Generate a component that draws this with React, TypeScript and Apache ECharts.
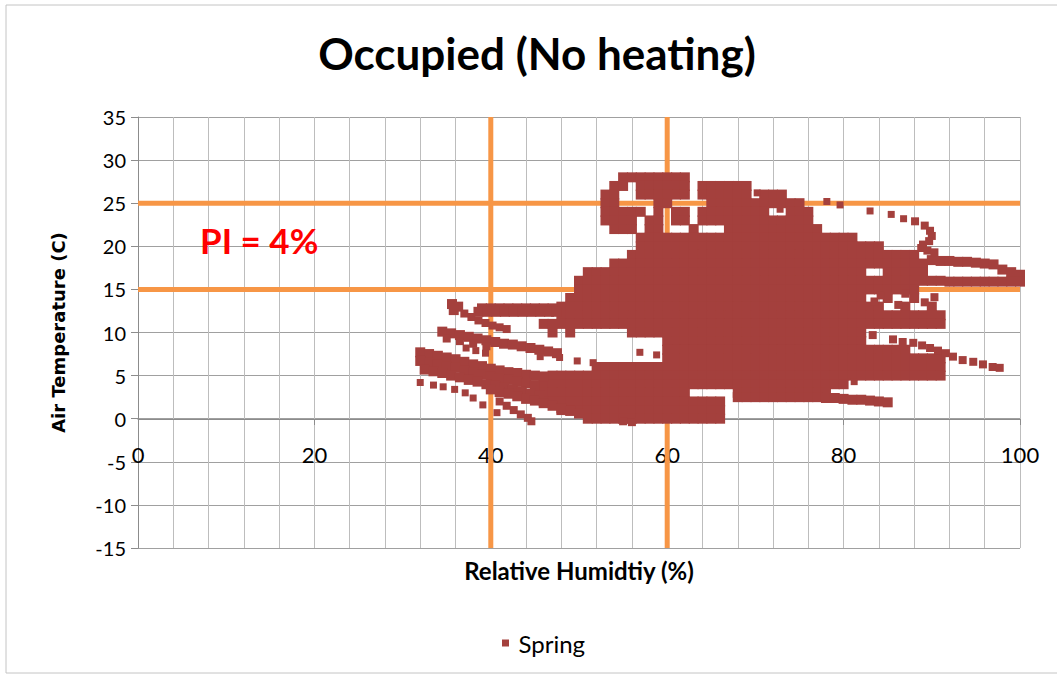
import React, { useEffect, useRef } from 'react';
import * as echarts from 'echarts';

// ---- axis settings / reference limits ----
const xMin = 0, xMax = 100, xStep = 20;
const yMin = -15, yMax = 35, yStep = 5;
const rhLimits = [40, 60];
const tempLimits = [15, 25];

// ---- Spring readings [RH %, air temperature C] ----
// dense core, upper cluster
const springCoreTop = [
  55,28, 56,28, 57,28, 58,28, 59,28, 60,28, 61,28, 62,28,
  54,27, 55,27, 57,27, 58,27, 59,27, 60,27, 61,27, 62,27, 64,27, 65,27, 66,27, 67,27, 68,27, 69,27,
  53,26, 54,26, 57,26, 58,26, 59,26, 60,26, 61,26, 62,26, 64,26, 65,26, 66,26, 67,26, 68,26, 69,26, 71,26, 72,26, 73,26,
  53,25, 54,25, 59,25, 60,25, 65,25, 66,25, 67,25, 68,25, 69,25, 70,25, 71,25, 72,25, 73,25, 74,25, 75,25,
  53,24, 54,24, 55,24, 56,24, 57,24, 59,24, 61,24, 62,24, 64,24, 65,24, 66,24, 67,24, 68,24, 69,24, 70,24, 71,24, 74,24, 75,24, 76,24,
  53,23, 54,23, 55,23, 56,23, 58,23, 59,23, 61,23, 62,23, 64,23, 65,23, 66,23, 67,23, 68,23, 69,23, 70,23, 71,23, 72,23, 73,23, 74,23, 75,23, 76,23,
  54,22, 55,22, 56,22, 58,22, 59,22, 63,22, 67,22, 68,22, 69,22, 70,22, 71,22, 72,22, 73,22, 74,22, 75,22, 76,22, 77,22,
];

// dense core, middle rows
const springCoreMid = [
  57,21, 58,21, 59,21, 60,21, 61,21, 62,21, 63,21, 64,21, 65,21, 66,21, 67,21, 68,21, 69,21, 70,21, 71,21, 72,21, 73,21, 74,21, 75,21, 76,21, 77,21, 78,21, 79,21, 80,21, 81,21,
  57,20, 58,20, 59,20, 60,20, 61,20, 62,20, 63,20, 64,20, 65,20, 66,20, 67,20, 68,20, 69,20, 70,20, 71,20, 72,20, 73,20, 74,20, 75,20, 76,20, 77,20, 78,20, 79,20, 80,20, 81,20, 82,20, 83,20, 84,20,
  56,19, 57,19, 58,19, 59,19, 60,19, 61,19, 62,19, 63,19, 64,19, 65,19, 66,19, 67,19, 68,19, 69,19, 70,19, 71,19, 72,19, 73,19, 74,19, 75,19, 76,19, 77,19, 78,19, 79,19, 80,19, 81,19, 82,19, 83,19, 84,19, 85,19, 86,19, 87,19, 88,19,
  54,18, 55,18, 56,18, 57,18, 58,18, 59,18, 60,18, 61,18, 62,18, 63,18, 64,18, 65,18, 66,18, 67,18, 68,18, 69,18, 70,18, 71,18, 72,18, 73,18, 74,18, 75,18, 76,18, 77,18, 78,18, 79,18, 80,18, 81,18, 82,18, 83,18, 84,18, 85,18, 86,18, 87,18, 88,18, 89,18,
  51,17, 52,17, 53,17, 54,17, 55,17, 56,17, 57,17, 58,17, 59,17, 60,17, 61,17, 62,17, 63,17, 64,17, 65,17, 66,17, 67,17, 68,17, 69,17, 70,17, 71,17, 72,17, 73,17, 74,17, 75,17, 76,17, 77,17, 78,17, 79,17, 80,17, 81,17, 82,17, 85,17, 86,17, 87,17, 88,17, 89,17,
  50,16, 51,16, 52,16, 53,16, 54,16, 55,16, 56,16, 57,16, 58,16, 59,16, 60,16, 61,16, 62,16, 63,16, 64,16, 65,16, 66,16, 67,16, 68,16, 69,16, 70,16, 71,16, 72,16, 73,16, 74,16, 75,16, 76,16, 77,16, 78,16, 79,16, 80,16, 81,16, 82,16, 83,16, 84,16, 85,16, 86,16, 87,16, 88,16, 89,16, 90,16, 91,16,
  50,15, 51,15, 52,15, 53,15, 54,15, 55,15, 56,15, 57,15, 58,15, 59,15, 60,15, 61,15, 62,15, 63,15, 64,15, 65,15, 66,15, 67,15, 68,15, 69,15, 70,15, 71,15, 72,15, 73,15, 74,15, 75,15, 76,15, 77,15, 78,15, 79,15, 80,15, 81,15, 82,15, 83,15, 84,15, 85,15, 86,15, 87,15, 88,15,
  49,14, 50,14, 51,14, 52,14, 53,14, 54,14, 55,14, 56,14, 57,14, 58,14, 59,14, 60,14, 61,14, 62,14, 63,14, 64,14, 65,14, 66,14, 67,14, 68,14, 69,14, 70,14, 71,14, 72,14, 73,14, 74,14, 75,14, 76,14, 77,14, 78,14, 79,14, 80,14, 81,14, 82,14, 85,14, 88,14,
];

// dense core, lower rows
const springCoreLow = [
  48,13, 49,13, 50,13, 51,13, 52,13, 53,13, 54,13, 55,13, 56,13, 57,13, 58,13, 59,13, 60,13, 61,13, 62,13, 63,13, 64,13, 65,13, 66,13, 67,13, 68,13, 69,13, 70,13, 71,13, 72,13, 73,13, 74,13, 75,13, 76,13, 77,13, 78,13, 79,13, 80,13, 81,13, 82,13, 83,13, 84,13, 87,13, 90,13,
  48,12, 49,12, 50,12, 51,12, 52,12, 53,12, 54,12, 55,12, 56,12, 57,12, 58,12, 59,12, 60,12, 61,12, 62,12, 63,12, 64,12, 65,12, 66,12, 67,12, 68,12, 69,12, 70,12, 71,12, 72,12, 73,12, 74,12, 75,12, 76,12, 77,12, 78,12, 79,12, 80,12, 81,12, 82,12, 83,12, 84,12, 85,12, 86,12, 87,12, 88,12, 89,12, 90,12, 91,12,
  46,11, 47,11, 48,11, 49,11, 50,11, 51,11, 52,11, 53,11, 54,11, 55,11, 56,11, 57,11, 58,11, 59,11, 60,11, 61,11, 62,11, 63,11, 64,11, 65,11, 66,11, 67,11, 68,11, 69,11, 70,11, 71,11, 72,11, 73,11, 74,11, 75,11, 76,11, 77,11, 78,11, 79,11, 80,11, 81,11, 82,11, 83,11, 84,11, 85,11, 86,11, 87,11, 88,11, 89,11, 90,11, 91,11,
  47,10, 49,10, 56,10, 57,10, 58,10, 59,10, 60,10, 61,10, 62,10, 63,10, 64,10, 65,10, 66,10, 67,10, 68,10, 69,10, 70,10, 71,10, 72,10, 73,10, 74,10, 75,10, 76,10, 77,10, 78,10, 79,10, 80,10, 81,10, 82,10,
  60,9, 61,9, 62,9, 63,9, 64,9, 65,9, 66,9, 67,9, 68,9, 69,9, 70,9, 71,9, 72,9, 73,9, 74,9, 75,9, 76,9, 77,9, 78,9, 79,9, 80,9, 81,9, 82,9,
  60,8, 61,8, 62,8, 63,8, 64,8, 65,8, 66,8, 67,8, 68,8, 69,8, 70,8, 71,8, 72,8, 73,8, 74,8, 75,8, 76,8, 77,8, 78,8, 79,8, 80,8, 81,8, 82,8, 83,8, 84,8, 85,8, 86,8, 87,8,
  60,7, 61,7, 62,7, 63,7, 64,7, 65,7, 66,7, 67,7, 68,7, 69,7, 70,7, 71,7, 72,7, 73,7, 74,7, 75,7, 76,7, 77,7, 78,7, 79,7, 80,7, 81,7, 82,7, 83,7, 84,7, 85,7, 86,7, 87,7, 88,7, 89,7, 90,7, 91,7,
  52,6, 53,6, 54,6, 55,6, 56,6, 57,6, 58,6, 59,6, 60,6, 61,6, 62,6, 63,6, 64,6, 65,6, 66,6, 67,6, 68,6, 69,6, 70,6, 71,6, 72,6, 73,6, 74,6, 75,6, 76,6, 77,6, 78,6, 79,6, 80,6, 81,6, 82,6, 83,6, 84,6, 85,6, 86,6, 87,6, 88,6, 89,6, 90,6, 91,6,
  47,5, 48,5, 49,5, 50,5, 51,5, 52,5, 53,5, 54,5, 55,5, 56,5, 57,5, 58,5, 59,5, 60,5, 61,5, 62,5, 63,5, 64,5, 65,5, 66,5, 67,5, 68,5, 69,5, 70,5, 71,5, 72,5, 73,5, 74,5, 75,5, 76,5, 77,5, 78,5, 79,5, 80,5, 81,5, 82,5, 83,5, 84,5, 85,5, 86,5, 87,5, 88,5, 89,5, 90,5, 91,5,
  46,4, 47,4, 48,4, 49,4, 50,4, 51,4, 52,4, 53,4, 54,4, 55,4, 56,4, 57,4, 58,4, 59,4, 60,4, 61,4, 62,4, 63,4, 64,4, 65,4, 66,4, 67,4, 68,4, 69,4, 70,4, 71,4, 72,4, 73,4, 74,4, 75,4, 76,4, 77,4, 78,4, 79,4, 80,4,
  45,3, 46,3, 47,3, 48,3, 49,3, 50,3, 51,3, 52,3, 53,3, 54,3, 55,3, 56,3, 57,3, 58,3, 59,3, 60,3, 61,3, 62,3, 68,3, 69,3, 70,3, 71,3, 72,3, 73,3, 74,3, 75,3, 76,3, 77,3, 78,3,
  46,2, 47,2, 48,2, 49,2, 50,2, 51,2, 52,2, 53,2, 54,2, 55,2, 56,2, 57,2, 58,2, 59,2, 60,2, 61,2, 62,2, 63,2, 64,2, 65,2, 66,2,
  48,1, 49,1, 50,1, 51,1, 52,1, 53,1, 54,1, 55,1, 56,1, 57,1, 58,1, 59,1, 60,1, 61,1, 62,1, 63,1, 64,1, 65,1, 66,1,
  51,0, 52,0, 53,0, 54,0, 55,0, 56,0, 57,0, 58,0, 59,0, 60,0, 61,0, 62,0, 63,0, 64,0, 65,0, 66,0,
];

// left-hand bands and right-hand tails (same marker size as the core)
const springBands = [
  35.6,13.3, 36.3,13.0, 35.8,12.6,
  39,12.8, 40,12.8, 41,12.8, 42,12.8, 43,12.8, 44,12.8, 45,12.8, 46,12.8, 47,12.8,
  38.6,12.4, 39.6,12.4, 40.6,12.4, 41.6,12.4, 42.6,12.4, 43.6,12.4, 44.6,12.4, 45.6,12.4, 46.6,12.4, 47.4,12.4,
  34.5,10.1, 35.5,9.9, 36.5,9.7, 37.5,9.5, 38.5,9.3, 39.5,9.1, 40.5,8.9, 41.5,8.7, 42.5,8.6, 43.5,8.4, 44.5,8.2, 45.5,8.0, 46.5,7.8, 47.5,7.6,
  32,7.7, 33,7.5, 34,7.3, 35,7.1, 36,6.9, 37,6.6, 38,6.3, 39,6.1, 40,5.8, 41,5.6, 42,5.4, 43,5.3, 44,5.1, 45,5.0, 46,4.9,
  32,6.7, 33,6.5, 34,6.3, 35,6.1, 36,5.9, 37,5.6, 38,5.4, 39,5.1, 40,4.9, 41,4.7, 42,4.5, 43,4.3, 44,4.1, 45,3.9,
  32.5,5.7, 33.5,5.5, 34.5,5.3, 35.5,5.0, 36.5,4.8, 37.5,4.5, 38.5,4.3, 39.5,4.0, 40.5,3.8, 41.5,3.6, 42.5,3.4, 43.5,3.2, 44.5,2.9, 45.5,2.7,
  40,3.4, 41,3.1, 42,2.9, 43,2.6, 44,2.3, 45,2.1, 46,1.8, 47,1.5, 48,1.2, 49,0.9, 50,0.6,
  68,2.5, 69,2.5, 70,2.5, 71,2.5, 72,2.5, 73,2.5, 74,2.5, 75,2.5, 76,2.5, 77,2.5, 78,2.4, 79,2.4, 80,2.3, 81,2.2, 82,2.2, 83,2.1, 84,2.0, 85,1.9,
  90,18.4, 91,18.3, 92,18.3, 93,18.2, 94,18.2, 95,18.1, 96,18.0, 97,17.9, 98,17.3, 99,17.0, 100,16.7,
  92,15.9, 93,15.9, 94,15.9, 95,15.9, 96,15.9, 97,15.9, 98,15.9, 99,15.9, 100,15.9,
];

// thinner streaks
const springStreaks = [
  37,12.2, 37.8,11.8, 38.6,11.4, 39.4,11.1, 40.2,10.8, 41,10.6, 41.8,10.4,
  35,9.3, 36.5,9.0, 38,8.7, 39.5,8.4,
  41,2.0, 41.8,1.5, 42.6,1.0, 43.4,0.5, 44.2,0.1, 44.6,-0.3, 55,-0.3, 56,-0.4,
  88.1,22.9, 89.2,22.4, 89.8,21.8, 90,21.2, 89.7,20.6, 89,20.2, 88.8,19.8, 89.5,19.5, 90.3,19.3,
  83.3,9.7, 85.6,9.2, 86.7,8.9, 87.9,8.8, 88.9,8.5, 89.8,8.2, 90.7,7.9, 91.6,7.6, 92.4,7.2,
  93.5,6.8, 94.7,6.6, 95.8,6.3, 96.9,6.0, 97.7,5.9,
  83.5,13.6, 86.2,13.2, 89.2,13.5, 84.2,14.3, 87,14.5, 90.3,14.1,
];

// isolated readings
const springDots = [
  32,4.2, 33.5,3.9, 34.6,3.7, 35.9,3.4, 37.1,3.0, 38,2.4, 39.1,1.6, 40.7,0.7,
  45.6,7.2, 47.8,7.1, 49.8,6.7, 51.6,6.5, 56.9,7.7, 58.8,7.4,
  37.2,8.2, 38.3,7.9, 39.4,7.6,
  78.1,25.2, 79.6,24.8, 83,24.1, 85.4,23.7, 86.8,23.2,
  81.2,4.3, 70.2,26.2, 72.8,24.3,
];

const SERIES_NAME = 'Spring';
const MARK_COLOR = '#A4403D';
const LIMIT_COLOR = '#F79646';

function toPairs(flat: number[]): number[][] {
  const out: number[][] = [];
  for (let i = 0; i + 1 < flat.length; i += 2) out.push([flat[i], flat[i + 1]]);
  return out;
}

export default function App() {
  const ref = useRef<HTMLDivElement>(null);

  useEffect(() => {
    if (!ref.current) return;
    const chart = echarts.init(ref.current, undefined, { renderer: 'svg' });
    const scatterBase = {
      name: SERIES_NAME,
      type: 'scatter',
      symbol: 'rect',
      itemStyle: { color: MARK_COLOR, opacity: 1 },
      emphasis: { disabled: true },
      z: 5,
    };
    const limitSegments = [
      ...rhLimits.map((v) => [[v, yMin], [v, yMax]]),
      ...tempLimits.map((v) => [[xMin, v], [xMax, v]]),
    ];
    const limitSeries = limitSegments.map((seg, i) => ({
      name: 'limit' + i,
      type: 'line',
      data: seg,
      symbol: 'none',
      silent: true,
      z: 1,
      lineStyle: { color: LIMIT_COLOR, width: 5, cap: 'butt' },
      emphasis: { disabled: true },
    }));
    chart.setOption({
      animation: false,
      backgroundColor: '#ffffff',
      title: {
        text: 'Occupied (No heating)',
        left: 537,
        top: 31,
        padding: 0,
        textAlign: 'center',
        textStyle: { fontFamily: 'Lato', fontWeight: 'bold', fontSize: 44, color: '#000000' },
      },
      legend: {
        data: [{ name: SERIES_NAME, icon: 'path://M0 0H7V7H0Z' }],
        left: 497,
        top: 626,
        itemWidth: 16,
        itemHeight: 7,
        textStyle: { fontFamily: 'Lato', fontSize: 24, color: '#000000' },
        selectedMode: false,
      },
      grid: { left: 138, right: 37, top: 117, bottom: 131, containLabel: false, outerBoundsMode: 'none' },
      xAxis: {
        type: 'value',
        min: xMin,
        max: xMax,
        interval: xStep,
        offset: -129,
        name: 'Relative Humidtiy (%)',
        nameLocation: 'middle',
        nameGap: 139,
        nameTextStyle: { fontFamily: 'Lato', fontWeight: 'bold', fontSize: 24, color: '#000000' },
        axisLine: { show: true, onZero: false, lineStyle: { color: '#8c8c8c', width: 1 } },
        axisTick: { show: true, length: 6, lineStyle: { color: '#8c8c8c' } },
        axisLabel: { margin: 24, fontFamily: 'Lato', fontSize: 22, color: '#000000' },
        splitLine: { show: true, lineStyle: { color: '#bdbdbd', width: 1 } },
        minorTick: { show: false, splitNumber: 5 },
        minorSplitLine: { show: true, lineStyle: { color: '#bdbdbd', width: 1 } },
      },
      yAxis: {
        type: 'value',
        min: yMin,
        max: yMax,
        interval: yStep,
        name: 'Air Temperature (C)',
        nameLocation: 'middle',
        nameRotate: 90,
        nameGap: 71,
        nameTextStyle: { fontFamily: 'DejaVu Sans', fontWeight: 'bold', fontSize: 18, color: '#000000' },
        axisLine: { show: true, onZero: false, lineStyle: { color: '#8c8c8c', width: 1 } },
        axisTick: { show: true, length: 7, lineStyle: { color: '#8c8c8c' } },
        axisLabel: { margin: 12, fontFamily: 'Lato', fontSize: 20, color: '#000000' },
        splitLine: { show: true, lineStyle: { color: '#a0a0a0', width: 1 } },
      },
      graphic: [
        {
          type: 'rect',
          shape: { x: 6, y: 5, width: 1060, height: 668 },
          style: { fill: 'none', stroke: '#c4c4c4', lineWidth: 1 },
          silent: true,
          z: -1,
        },
        {
          type: 'text',
          left: 200,
          top: 222,
          style: { text: 'PI = 4%', fill: '#FF0000', font: 'bold 35px Lato' },
          silent: true,
          z: 10,
        },
      ],
      series: [
        ...limitSeries,
        {
          ...scatterBase,
          symbolSize: 10,
          data: toPairs([...springCoreTop, ...springCoreMid, ...springCoreLow, ...springBands]),
        },
        { ...scatterBase, symbolSize: 8, data: toPairs(springStreaks) },
        { ...scatterBase, symbolSize: 7, data: toPairs(springDots) },
      ],
    });
    return () => chart.dispose();
  }, []);

  return (
    <div
      ref={ref}
      style={{ position: 'absolute', left: 0, top: 0, width: 1057, height: 679, background: '#ffffff' }}
    />
  );
}
